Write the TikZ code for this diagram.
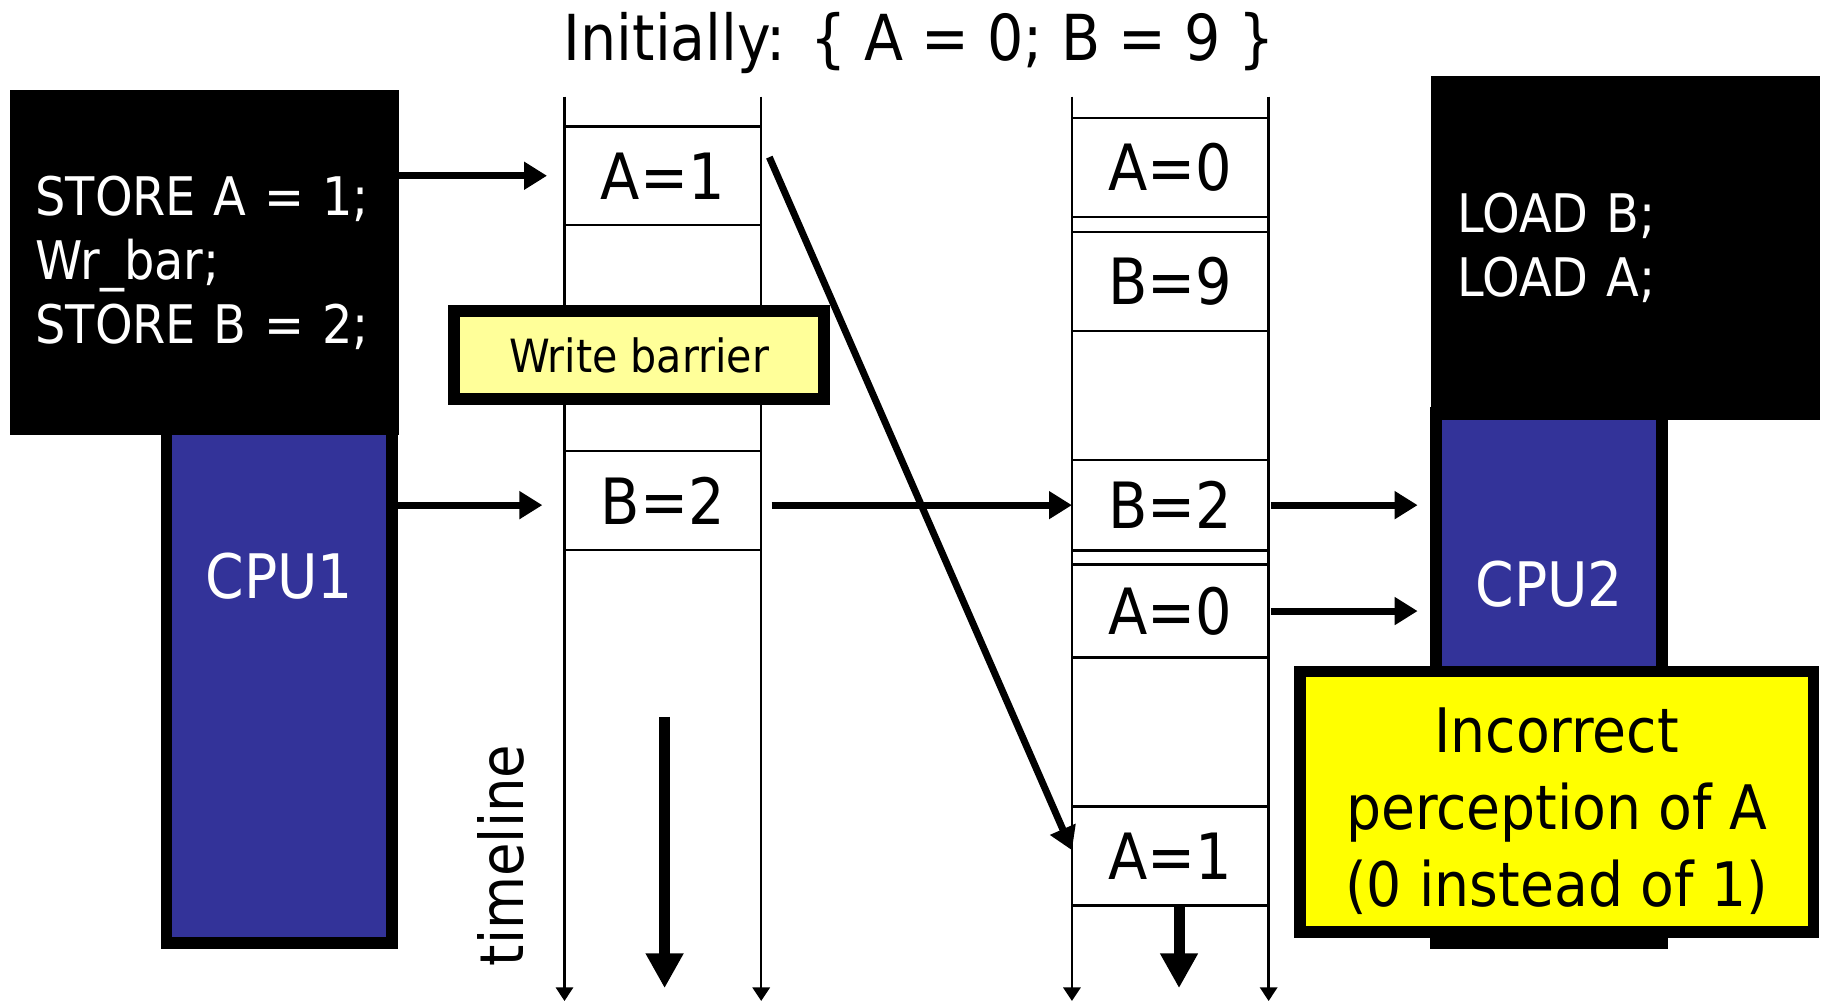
\documentclass[tikz,border=0pt]{standalone}
\usepackage{fontspec}
\setmainfont{DejaVu Sans Condensed}
\usetikzlibrary{arrows.meta,calc}
\definecolor{cpublue}{HTML}{333399}
\definecolor{paleyellow}{HTML}{FFFF99}
\definecolor{notebg}{HTML}{FFFF00}
\begin{document}
\begin{tikzpicture}[x=0.1mm,y=-0.1mm,
  cell/.style={draw,line width=0.6pt,minimum width=16.9mm,minimum height=8.5mm,inner sep=0pt,outer sep=0pt,font=\fontsize{15.6}{18}\selectfont},
  code/.style={fill=black,text=white,align=left,inner xsep=2.2mm,inner ysep=0pt,outer sep=0pt,font=\fontsize{13}{15.65}\selectfont},
  cpu/.style={draw,fill=cpublue,line width=2.85pt,minimum width=19.4mm,inner sep=0pt,outer sep=0pt},
  cpulabel/.style={text=white,anchor=base,font=\fontsize{15}{18}\selectfont},
  box/.style={draw,line width=2.85pt,inner sep=0pt,outer sep=0pt,align=center},
  flow/.style={line width=1.7pt,-{Triangle[length=5.6pt,width=6.5pt]}},
  colline/.style={line width=0.6pt,-{Triangle[length=3.3pt,width=4.2pt]}},
  timearrow/.style={line width=2.7pt,-{Triangle[length=8.5pt,width=8.7pt]}}]
  \useasboundingbox (0,0) rectangle (1568,862);
  \node[anchor=base,font=\fontsize{15.5}{18}\selectfont] (title) at (790,52) {Initially: \{ A = 0; B = 9 \}};

  \foreach \x in {485,654,921,1090}
    \draw[colline] (\x,83) -- (\x,860);

  \node[cell] (l1) at (569.5,151) {A=1};
  \node[cell] (l2) at (569.5,430) {B=2};
  \node[cell] (r1) at (1005.5,144) {A=0};
  \node[cell] (r2) at (1005.5,242) {B=9};
  \node[cell,minimum height=7.8mm] (r3) at (1005.5,434) {B=2};
  \node[cell,minimum height=8mm] (r4) at (1005.5,525) {A=0};
  \node[cell] (r5) at (1005.5,735.5) {A=1};

  \node[box,fill=paleyellow,minimum width=31.8mm,minimum height=7.6mm,font=\fontsize{11.2}{13}\selectfont] (barrier) at (549,305) {Write barrier};

  \node[cpu,minimum height=44.2mm] (cpu1) at (240,589) {};
  \node[code,text width=29mm,minimum height=29.7mm] (code1) at (175.5,225.5) {STORE A = 1;\\Wr\_bar;\\STORE B = 2;};
  \node[cpulabel] (cpu1label) at (240,514) {CPU1};

  \node[cpu,minimum height=45.5mm] (cpu2) at (1331,582.5) {};
  \node[code,text width=28.8mm,inner xsep=2.3mm,minimum height=29.6mm] (code2) at (1396.5,213) {LOAD B;\\LOAD A;};
  \node[cpulabel] (cpu2label) at (1331,521) {CPU2};

  \node[box,fill=notebg,minimum width=44.1mm,minimum height=22.4mm] (note) at (1337.5,689) {};
  \node[align=center,inner sep=0pt,font=\fontsize{15}{18.8}\selectfont] (notetext) at (1337.5,697) {Incorrect\\perception of A\\(0 instead of 1)};

  \node[rotate=90,anchor=base,font=\fontsize{14.8}{18}\selectfont] (tl) at (450,735) {timeline};

  \draw[flow,shorten >=1.5mm] (code1.east |- l1.west) -- (l1.west);
  \draw[flow,shorten >=1.9mm] (cpu1.east |- r3.west) -- (l2.west |- r3.west);
  \draw[flow,shorten <=0.9mm] (l2.east |- r3.west) -- (r3.west);
  \draw[flow,shorten <=0.2mm,shorten >=1.6mm] (r3.east) -- (cpu2.west |- r3.east);
  \draw[flow,shorten <=0.2mm,shorten >=1.6mm] (r4.east) -- (cpu2.west |- r4.east);
  \draw[flow] ($(l1.east)+(7,-16)$) -- ($(r5.west)+(0,-5)$);

  \coordinate (tstart) at (571,616);
  \coordinate (tend) at (571,849);
  \draw[timearrow] (tstart) -- (tend);
  \draw[timearrow] ([xshift=0.75mm]r5.south) -- ++(0,71);
\end{tikzpicture}
\end{document}
